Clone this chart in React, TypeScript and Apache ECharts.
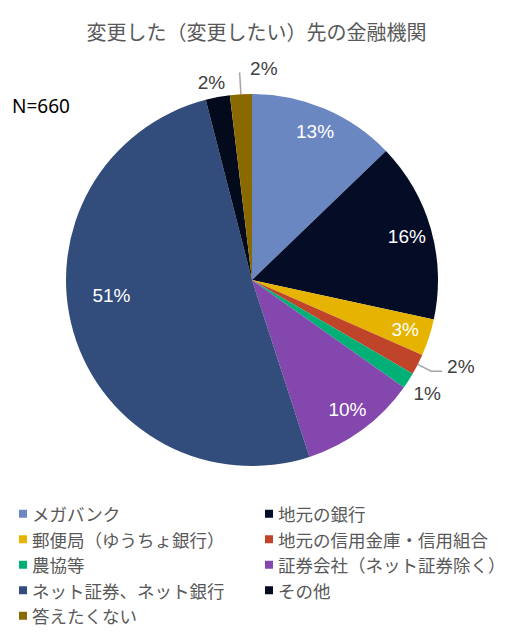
import React, { useEffect, useRef } from 'react';
import * as echarts from 'echarts';

// 回答カテゴリ
const categories = [
    'メガバンク',
    '地元の銀行',
    '郵便局（ゆうちょ銀行）',
    '地元の信用金庫・信用組合',
    '農協等',
    '証券会社（ネット証券除く）',
    'ネット証券、ネット銀行',
    'その他',
    '答えたくない',
];

// 構成比 (%)
const shares = [12.8, 15.6, 3.2, 1.8, 1.4, 10.2, 51.0, 2.1, 1.9];

const colors = [
    '#6A87C2',
    '#050D26',
    '#E6B400',
    '#BF4429',
    '#00B077',
    '#8447AE',
    '#324D7C',
    '#020A1C',
    '#8A6A00',
];

const sampleLabel = 'N=660';
const titleText = '変更した（変更したい）先の金融機関';

// ラベルを扇形の内側に出すもの
const insideIdx = [0, 1, 2, 5, 6];

const labelFont = 'Liberation Sans';
const jpFont = 'Noto Sans CJK JP';

// 外側ラベルの引出線設定
const outsideLine: Record<number, { show: boolean; length: number; length2: number }> = {
    3: { show: true, length: 15, length2: 11 },
    4: { show: false, length: 6, length2: 0 },
    7: { show: false, length: 8, length2: 0 },
    8: { show: true, length: 22, length2: 0 },
};

// ラベル位置の微調整
const outsideNudge: Record<number, [number, number]> = {
    3: [0, -5],
    4: [-5, 10],
    7: [14, -7],
    8: [43, -4],
};
const insideNudge: Record<number, [number, number]> = {
    6: [14, -29],
};

const pct = (v: number) => Math.round(v) + '%';

const App: React.FC = () => {
    const chartRef = useRef<HTMLDivElement>(null);

    useEffect(() => {
        document.body.style.margin = '0';
        if (!chartRef.current) return;
        const chart = echarts.init(chartRef.current, null, { renderer: 'svg' });

        const center = [252, 280];
        const radius = 186;

        const mainData = categories.map((name, i) => {
            const line = outsideLine[i];
            return {
                name,
                value: shares[i],
                itemStyle: { color: colors[i] },
                label: line
                    ? { show: true, position: 'outside' }
                    : { show: false },
                labelLine: line
                    ? { show: line.show, length: line.length, length2: line.length2 }
                    : { show: false },
            };
        });

        const overlayData = categories.map((name, i) => ({
            name,
            value: shares[i],
            label: { show: insideIdx.includes(i) },
        }));

        const legendStyle = {
            orient: 'vertical',
            top: 505,
            itemWidth: 8,
            itemHeight: 8,
            itemGap: 8,
            icon: 'rect',
            padding: 0,
            selectedMode: false,
            textStyle: { fontSize: 17.5, color: '#595959', fontFamily: jpFont },
        };

        const option = {
            animation: false,
            backgroundColor: '#fff',
            title: {
                text: titleText,
                left: 'center',
                top: 16,
                textStyle: {
                    fontSize: 20,
                    fontWeight: 'normal',
                    color: '#595959',
                    fontFamily: jpFont,
                },
            },
            graphic: [
                {
                    type: 'text',
                    left: 12,
                    top: 96,
                    style: {
                        text: sampleLabel,
                        font: '19px "Noto Sans"',
                        fill: '#000',
                    },
                },
            ],
            legend: [
                {
                    ...legendStyle,
                    left: 19,
                    data: categories.filter((_, i) => i % 2 === 0),
                },
                {
                    ...legendStyle,
                    left: 265,
                    data: categories.filter((_, i) => i % 2 === 1),
                },
            ],
            series: [
                {
                    type: 'pie',
                    name: 'main',
                    center,
                    radius,
                    startAngle: 90,
                    clockwise: true,
                    avoidLabelOverlap: false,
                    itemStyle: { borderWidth: 0 },
                    label: {
                        formatter: (p: any) => pct(p.value),
                        fontSize: 19,
                        fontFamily: labelFont,
                        color: '#404040',
                        distanceToLabelLine: 5,
                    },
                    labelLine: {
                        lineStyle: { color: '#A6A6A6', width: 1.5 },
                        smooth: false,
                    },
                    labelLayout: (p: any) => {
                        const n = outsideNudge[p.dataIndex];
                        return n ? { dx: n[0], dy: n[1] } : {};
                    },
                    emphasis: { disabled: true },
                    data: mainData,
                },
                {
                    type: 'pie',
                    name: 'labels',
                    center,
                    radius: [130, radius],
                    startAngle: 90,
                    clockwise: true,
                    silent: true,
                    avoidLabelOverlap: false,
                    itemStyle: { color: 'rgba(0,0,0,0)', borderWidth: 0 },
                    label: {
                        position: 'inside',
                        formatter: (p: any) => pct(p.value),
                        fontSize: 19,
                        fontFamily: labelFont,
                        color: '#fff',
                    },
                    labelLine: { show: false },
                    labelLayout: (p: any) => {
                        const n = insideNudge[p.dataIndex];
                        return n ? { dx: n[0], dy: n[1] } : {};
                    },
                    emphasis: { disabled: true },
                    data: overlayData,
                },
            ],
        };

        chart.setOption(option as any);

        return () => {
            chart.dispose();
        };
    }, []);

    return <div ref={chartRef} style={{ width: '513px', height: '639px' }} />;
};

export default App;
